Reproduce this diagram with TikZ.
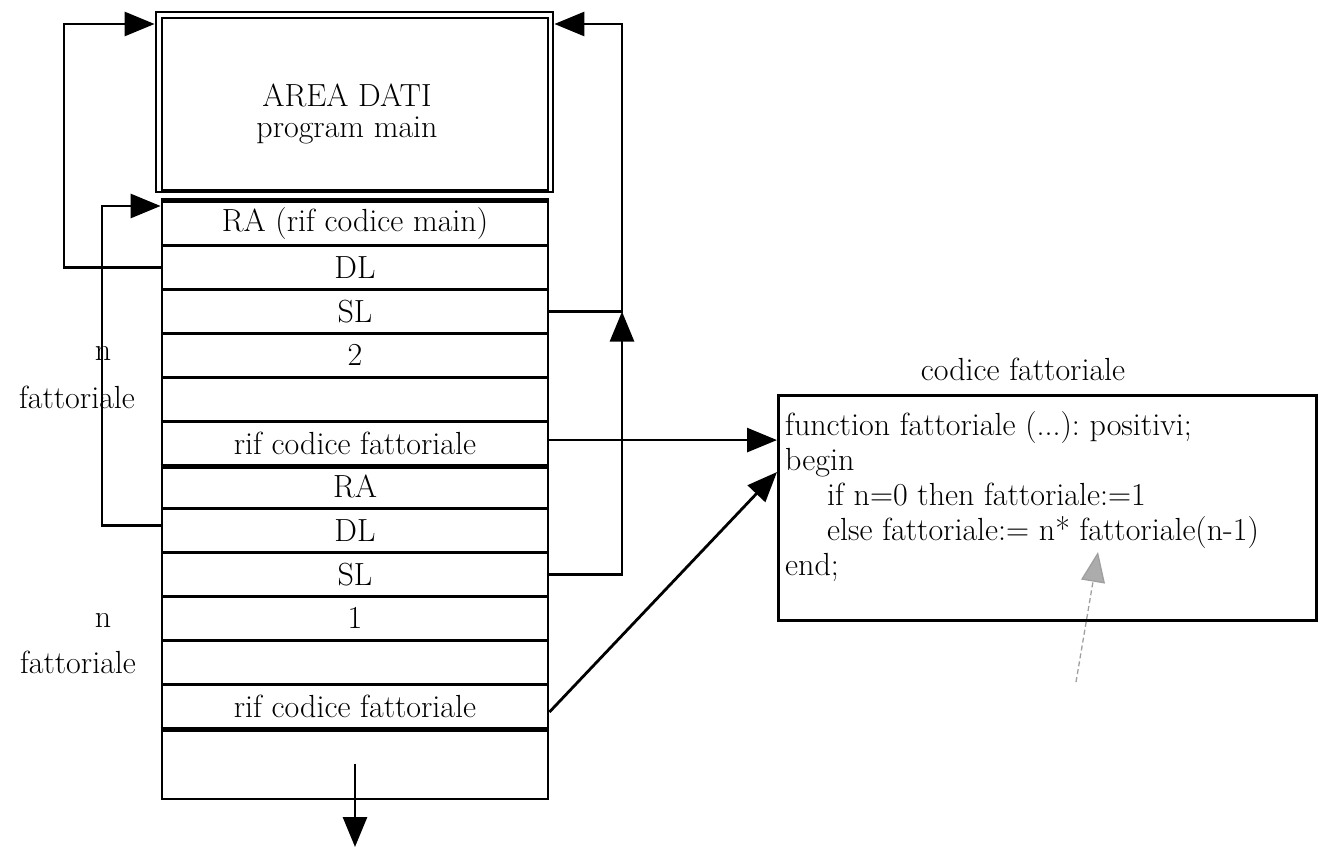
\documentclass[tikz,border=0pt]{standalone}
\usepackage{fontspec}
\usetikzlibrary{arrows.meta}
\tikzset{
  every node/.style={font=\fontsize{32}{35}\selectfont\frenchspacing},
  cell/.style={draw, line width=2.8pt, minimum width=386pt, minimum height=43.83pt, inner sep=0pt, anchor=center},
  bigbox/.style={draw, line width=2.8pt, inner sep=0pt},
  conn/.style={line width=2.8pt, -{Triangle[length=30pt,width=24pt]}},
  thickrule/.style={line width=5pt},
  lbl/.style={inner sep=0pt},
  hint/.style={draw=gray!75, line width=1.3pt, dash pattern=on 5pt off 3pt, -{Triangle[length=30pt,width=24pt,fill=gray!65]}},
}
\begin{document}
\begin{tikzpicture}[x=1pt,y=-1pt]
\useasboundingbox (0,0) rectangle (1319,850);
% data area of main
\node[bigbox, minimum width=397pt, minimum height=180pt] (area) at (354.5,102) {};
\node[bigbox, minimum width=386pt, minimum height=172pt] (areain) at (355,104) {};
\node[lbl, align=center, font=\fontsize{32}{31}\selectfont] (areatxt) at (347,113.5) {AREA DATI\\program main};
% stack cells
\node[cell] (ra1)  at (355,223.92) {RA (rif codice main)};
\node[cell] (dl1)  at (355,267.75) {DL};
\node[cell] (sl1)  at (355,311.58) {SL};
\node[cell] (n1)   at (355,355.41) {2};
\node[cell] (f1)   at (355,399.24) {};
\node[cell] (rif1) at (355,443.07) {rif codice fattoriale};
\node[cell] (ra2)  at (355,486.90) {RA};
\node[cell] (dl2)  at (355,530.73) {DL};
\node[cell] (sl2)  at (355,574.56) {SL};
\node[cell] (n2)   at (355,618.39) {1};
\node[cell] (f2)   at (355,662.22) {};
\node[cell] (rif2) at (355,706.05) {rif codice fattoriale};
\node[cell, minimum height=71pt] (bot) at (355,763.5) {};
\draw[thickrule] (ra1.north west) -- (ra1.north east);
\draw[thickrule] (rif1.south west) -- (rif1.south east);
\draw[thickrule] (rif2.south west) -- (rif2.south east);
% side labels
\node[lbl] (ln1) at (103,353) {n};
\node[lbl] (lf1) at (77,397) {fattoriale};
\node[lbl] (ln2) at (103,620) {n};
\node[lbl] (lf2) at (78,662) {fattoriale};
% code box
\node[lbl] (codetitle) at (1023,369) {codice fattoriale};
\node[bigbox, minimum width=538pt, minimum height=225pt, anchor=north west] (code) at (777,394) {};
\node[lbl, anchor=north west, align=left] (codetxt) at (785,411) {function fattoriale (...): positivi;\\begin\\\hspace*{42pt}if n=0 then fattoriale:=1\\\hspace*{42pt}else fattoriale:= n* fattoriale(n-1)\\end;};
% connectors
\coordinate (l1) at (64,24);
\coordinate (l2) at (102,206);
\coordinate (r1) at (622,24);
\draw[conn] (dl1.west) -| (l1) -- (l1 -| area.west);
\draw[conn] ([yshift=5pt]dl2.west) -| (l2) -- (l2 -| ra1.west);
\draw[conn] (sl1.east) -| (r1) -- (r1 -| area.east);
\draw[conn] (sl2.east) -| (r1 |- sl1.east);
\draw[conn] ([yshift=3pt]rif1.east) -- ([yshift=3pt]rif1.east -| code.west);
\draw[conn] ([yshift=-6pt]rif2.east) -- ([yshift=-78pt]code.north west);
\coordinate (down) at (355,847);
\draw[conn] (bot.center) -- (down);
\coordinate (gtail) at (1076,682);
\coordinate (gtip) at (1098,552);
\draw[hint] (gtail) -- (gtip);
\end{tikzpicture}
\end{document}
